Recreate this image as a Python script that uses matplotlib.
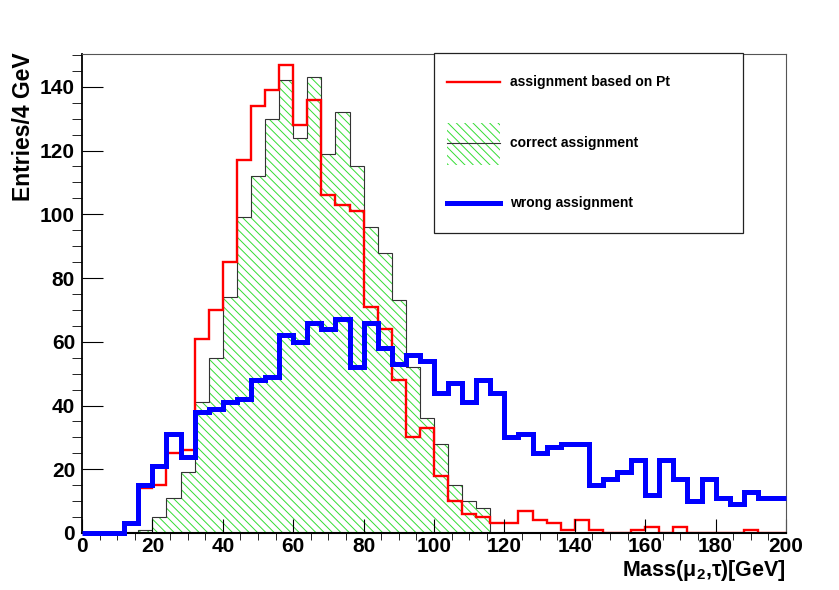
import matplotlib.pyplot as plt
from matplotlib.patches import Rectangle
from matplotlib.lines import Line2D
from matplotlib.ticker import MultipleLocator
import numpy as np

# 50 bins of 4 GeV from 0 to 200
bin_edges = np.arange(0, 204, 4)

pt_based = [0, 0, 0, 3, 14, 15, 25, 26, 61, 70,
            85, 117, 134, 139, 147, 128, 136, 106, 103, 101,
            71, 64, 48, 30, 33, 18, 10, 6, 5, 3,
            3, 7, 4, 3, 1, 4, 1, 0, 0, 1,
            2, 0, 2, 0, 0, 0, 0, 1, 0, 0]

correct = [0, 0, 0, 0, 1, 5, 11, 19, 41, 55,
           74, 99, 112, 130, 142, 124, 143, 119, 132, 115,
           96, 88, 73, 52, 36, 28, 15, 10, 8, 0,
           0, 0, 0, 0, 0, 0, 0, 0, 0, 0,
           0, 0, 0, 0, 0, 0, 0, 0, 0, 0]

wrong = [0, 0, 0, 3, 15, 21, 31, 24, 38, 39,
         41, 42, 48, 49, 62, 60, 66, 64, 67, 52,
         66, 58, 53, 56, 54, 44, 47, 41, 48, 44,
         30, 31, 25, 27, 28, 28, 15, 17, 19, 23,
         12, 23, 17, 10, 17, 11, 9, 13, 11, 11]

labels = ["assignment based on Pt", "correct assignment", "wrong assignment"]

W, H = 839, 590


def fx(px):
    return px / W


def fy(py):
    return 1 - py / H


plt.rcParams['font.family'] = ['Liberation Sans', 'DejaVu Sans']
plt.rcParams['font.weight'] = 'bold'
plt.rcParams['mathtext.fontset'] = 'custom'
plt.rcParams['mathtext.rm'] = 'Liberation Sans:bold'
plt.rcParams['mathtext.it'] = 'Liberation Sans'
plt.rcParams['hatch.linewidth'] = 0.7

fig = plt.figure(figsize=(8.39, 5.90), dpi=100, facecolor='white')
ax = fig.add_axes([fx(82), fy(533), fx(786) - fx(82), fy(54) - fy(533)])

green = '#33dd33'
hatch = '\\\\\\\\'
ax.stairs(correct, bin_edges, fill=True, hatch=hatch, facecolor='none',
          edgecolor=green, linewidth=0)
ax.stairs(correct, bin_edges, baseline=None, color='#333333', linewidth=0.8)
ax.stairs(pt_based, bin_edges, baseline=None, color='#ff0000', linewidth=1.7)
ax.stairs(wrong, bin_edges, baseline=None, color='#0000ff', linewidth=3.6,
          clip_on=False, zorder=3)

ax.set_xlim(0, 200)
ax.set_ylim(0, 150.3)

ax.xaxis.set_major_locator(MultipleLocator(20))
ax.xaxis.set_minor_locator(MultipleLocator(5))
ax.yaxis.set_minor_locator(MultipleLocator(5))
ax.set_yticks(np.arange(0, 141, 20))
ax.tick_params(axis='both', direction='in', width=0.8, labelsize=15,
               top=False, right=False)
ax.tick_params(axis='x', which='major', length=10, pad=3)
ax.tick_params(axis='x', which='minor', length=5)
ax.tick_params(axis='y', which='major', length=15, pad=5)
ax.tick_params(axis='y', which='minor', length=7.5)
for lab in ax.get_xticklabels() + ax.get_yticklabels():
    lab.set_fontweight('bold')

ax.spines['left'].set_linewidth(1.3)
ax.spines['bottom'].set_linewidth(1.5)
ax.spines['top'].set_linewidth(0.8)
ax.spines['right'].set_linewidth(0.8)
ax.spines['top'].set_color('#555555')
ax.spines['right'].set_color('#555555')

fig.text(fx(24), fy(52), "Entries/4 GeV", rotation=90, ha='center', va='top',
         fontsize=16.5, fontweight='bold')
fig.text(fx(786), fy(558), r"Mass($\mu_{2}$,$\tau$)[GeV]", ha='right',
         va='top', fontsize=15.5, fontweight='bold')

# legend box drawn by hand, ROOT style
fig.patches.append(Rectangle((fx(434), fy(233)), fx(743) - fx(434),
                             fy(53) - fy(233), transform=fig.transFigure,
                             facecolor='white', edgecolor='#222222',
                             linewidth=0.9, zorder=5))
rows = [82, 143, 203]
fig.lines.append(Line2D([fx(447), fx(500)], [fy(rows[0])] * 2,
                        transform=fig.transFigure, color='#ff0000',
                        linewidth=1.7, zorder=6))
fig.patches.append(Rectangle((fx(447), fy(165)), fx(500) - fx(447),
                             fy(123) - fy(165), transform=fig.transFigure,
                             facecolor='none', edgecolor=green, hatch=hatch,
                             linewidth=0, zorder=6))
fig.lines.append(Line2D([fx(447), fx(500)], [fy(rows[1])] * 2,
                        transform=fig.transFigure, color='#333333',
                        linewidth=0.8, zorder=7))
fig.lines.append(Line2D([fx(447), fx(500)], [fy(rows[2])] * 2,
                        transform=fig.transFigure, color='#0000ff',
                        linewidth=3.6, zorder=6))
for r, lab in zip(rows, labels):
    fig.text(fx(510), fy(r), lab, ha='left', va='center', fontsize=10,
             fontweight='bold', zorder=8)

fig.savefig("out.png", dpi=100, facecolor='white')
